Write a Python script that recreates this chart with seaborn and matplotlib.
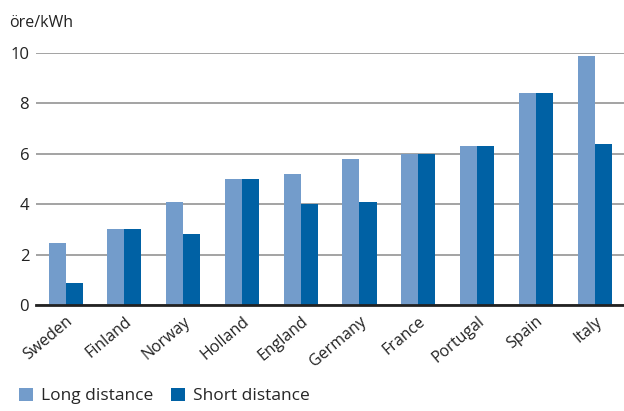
import pandas as pd
import seaborn as sns
import matplotlib.pyplot as plt
from matplotlib.patches import Patch

countries = ["Sweden", "Finland", "Norway", "Holland", "England",
             "Germany", "France", "Portugal", "Spain", "Italy"]
long_distance = [2.45, 3.0, 4.1, 5.0, 5.2, 5.8, 6.0, 6.3, 8.4, 9.9]
short_distance = [0.87, 3.02, 2.8, 5.0, 4.0, 4.1, 6.0, 6.3, 8.4, 6.4]
series = ["Long distance", "Short distance"]
colors = ["#739ccb", "#0061a4"]

df = pd.DataFrame({
    "country": countries * 2,
    "value": long_distance + short_distance,
    "series": [series[0]] * len(countries) + [series[1]] * len(countries),
})

sns.set_style("white")
plt.rcParams["font.family"] = ["Open Sans", "DejaVu Sans"]

fig = plt.figure(figsize=(6.24, 4.11), dpi=100)
ax = fig.add_axes([0.058, 0.258, 0.942, 0.613])

sns.barplot(data=df, x="country", y="value", hue="series", order=countries,
            hue_order=series, palette=colors, width=0.58, gap=0,
            saturation=1, legend=False, linewidth=0, ax=ax)

ax.set_ylim(0, 10)
ax.set_xlim(-0.5, len(countries) - 0.5)
ax.set_yticks([0, 2, 4, 6, 8, 10])
ax.yaxis.grid(True, color="#8a8a8a", linewidth=1.1)
ax.set_axisbelow(True)
for s in ["top", "right", "left"]:
    ax.spines[s].set_visible(False)
ax.spines["bottom"].set_color("#222222")
ax.spines["bottom"].set_linewidth(2)
ax.spines["bottom"].set_zorder(5)
ax.set_xlabel("")
ax.set_ylabel("")
ax.tick_params(axis="both", length=0, labelsize=12, colors="#222222")
ax.tick_params(axis="y", pad=5)
ax.tick_params(axis="x", pad=6)
plt.setp(ax.get_xticklabels(), rotation=40, ha="right", rotation_mode="anchor",
         fontsize=11.5)

fig.text(0.014, 0.945, "öre/kWh", fontsize=11.5, color="#222222", va="center")

handles = [Patch(facecolor=c, edgecolor="none") for c in colors]
fig.legend(handles, series, loc="lower left", bbox_to_anchor=(0.005, -0.022),
           ncol=2, frameon=False, fontsize=12.5, handlelength=0.8, handleheight=0.8,
           handletextpad=0.5, columnspacing=1.0)

fig.savefig("out.png", dpi=100)
